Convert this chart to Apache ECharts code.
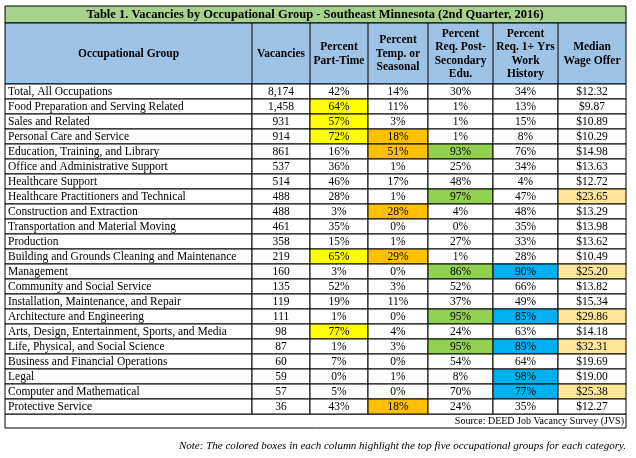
<!DOCTYPE html>
<html>
<head>
<meta charset="utf-8">
<script src="https://cdn.jsdelivr.net/npm/echarts@6/dist/echarts.min.js"></script>
<style>html,body{margin:0;padding:0;background:#fff}#main{width:636px;height:458px}</style>
</head>
<body>
<div id="main"></div>
<script>
var titleText = 'Table 1. Vacancies by Occupational Group - Southeast Minnesota (2nd Quarter, 2016)';
var headers = ['Occupational Group', 'Vacancies', 'Percent\nPart-Time', 'Percent\nTemp. or\nSeasonal',
    'Percent\nReq. Post-\nSecondary\nEdu.', 'Percent\nReq. 1+ Yrs\nWork\nHistory', 'Median\nWage Offer'];
var groups = ['Total, All Occupations', 'Food Preparation and Serving Related', 'Sales and Related',
    'Personal Care and Service', 'Education, Training, and Library', 'Office and Administrative Support',
    'Healthcare Support', 'Healthcare Practitioners and Technical', 'Construction and Extraction',
    'Transportation and Material Moving', 'Production', 'Building and Grounds Cleaning and Maintenance',
    'Management', 'Community and Social Service', 'Installation, Maintenance, and Repair',
    'Architecture and Engineering', 'Arts, Design, Entertainment, Sports, and Media',
    'Life, Physical, and Social Science', 'Business and Financial Operations', 'Legal',
    'Computer and Mathematical', 'Protective Service'];
var vacancies = ['8,174', '1,458', '931', '914', '861', '537', '514', '488', '488', '461', '358', '219',
    '160', '135', '119', '111', '98', '87', '60', '59', '57', '36'];
var partTime = [42, 64, 57, 72, 16, 36, 46, 28, 3, 35, 15, 65, 3, 52, 19, 1, 77, 1, 7, 0, 5, 43];
var temporary = [14, 11, 3, 18, 51, 1, 17, 1, 28, 0, 1, 29, 0, 3, 11, 0, 4, 3, 0, 1, 0, 18];
var postSecondary = [30, 1, 1, 1, 93, 25, 48, 97, 4, 0, 27, 1, 86, 52, 37, 95, 24, 95, 54, 8, 70, 24];
var workHistory = [34, 13, 15, 8, 76, 34, 4, 47, 48, 35, 33, 28, 90, 66, 49, 85, 63, 89, 64, 98, 77, 35];
var wage = ['12.32', '9.87', '10.89', '10.29', '14.98', '13.63', '12.72', '23.65', '13.29', '13.98', '13.62',
    '10.49', '25.20', '13.82', '15.34', '29.86', '14.18', '32.31', '19.69', '19.00', '25.38', '12.27'];
// highlighted (top five) row indexes per column
var topPartTime = [1, 2, 3, 11, 16];
var topTemporary = [3, 4, 8, 11, 21];
var topPostSecondary = [4, 7, 12, 15, 17];
var topWorkHistory = [12, 15, 17, 19, 20];
var topWage = [7, 12, 15, 17, 20];
var sourceText = 'Source: DEED Job Vacancy Survey (JVS)';
var noteText = 'Note: The colored boxes in each column highlight the top five occupational groups for each category.';

// layout
var colEdges = [5, 252, 310, 368, 428, 493, 558, 626];
var colors = ['#fff', '#fff', '#FFFF00', '#FFC000', '#92D050', '#00B0F0', '#FFE699'];
var font = '"Liberation Serif", "Times New Roman", serif';

var cols = [
    {vals: groups, top: []},
    {vals: vacancies, top: []},
    {vals: partTime.map(function (v) { return v + '%'; }), top: topPartTime},
    {vals: temporary.map(function (v) { return v + '%'; }), top: topTemporary},
    {vals: postSecondary.map(function (v) { return v + '%'; }), top: topPostSecondary},
    {vals: workHistory.map(function (v) { return v + '%'; }), top: topWorkHistory},
    {vals: wage.map(function (v) { return '$' + v; }), top: topWage}
];
var cells = [];
cols.forEach(function (c, ci) {
    c.vals.forEach(function (t, ri) {
        cells.push([ci, ri, t, c.top.indexOf(ri) >= 0 ? colors[ci] : '#fff']);
    });
});

var chart = echarts.init(document.getElementById('main'));
var graphics = [
    {type: 'rect', shape: {x: 5, y: 6, width: 621, height: 17}, style: {fill: '#A9D18E', stroke: '#000', lineWidth: 1}},
    {type: 'text', x: 315, y: 15, style: {text: titleText, font: 'bold 12.5px ' + font, fill: '#000', align: 'center', verticalAlign: 'middle'}},
    {type: 'rect', shape: {x: 5, y: 23, width: 621, height: 61}, style: {fill: '#9DC3E6', stroke: '#000', lineWidth: 1}},
    {type: 'rect', shape: {x: 5, y: 414, width: 621, height: 14}, style: {fill: '#fff', stroke: '#000', lineWidth: 1}},
    {type: 'text', x: 624, y: 421, style: {text: sourceText, font: '10px ' + font, fill: '#000', align: 'right', verticalAlign: 'middle'}},
    {type: 'text', x: 626, y: 446, style: {text: noteText, font: 'italic 11px ' + font, fill: '#000', align: 'right', verticalAlign: 'middle'}}
];
headers.forEach(function (h, i) {
    if (i > 0) {
        graphics.push({type: 'line', shape: {x1: colEdges[i], y1: 23, x2: colEdges[i], y2: 84}, style: {stroke: '#000', lineWidth: 1}});
    }
    graphics.push({type: 'text', x: (colEdges[i] + colEdges[i + 1]) / 2, y: 54,
        style: {text: h, font: 'bold 11.5px ' + font, lineHeight: 13.5, fill: '#000', align: 'center', verticalAlign: 'middle'}});
});

chart.setOption({
    animation: false,
    grid: {left: 5, right: 10, top: 84, bottom: 44},
    xAxis: {type: 'value', min: 5, max: 626, show: false},
    yAxis: {type: 'category', data: groups, inverse: true, show: false},
    graphic: graphics,
    series: [{
        type: 'custom',
        data: cells,
        renderItem: function (params, api) {
            var ci = api.value(0), ri = api.value(1);
            var p0 = api.coord([colEdges[ci], ri]);
            var p1 = api.coord([colEdges[ci + 1], ri]);
            var h = api.size([0, 1])[1];
            var x = p0[0], y = p0[1] - h / 2, w = p1[0] - p0[0];
            var text = cells[params.dataIndex][2];
            return {
                type: 'group',
                children: [
                    {type: 'rect', shape: {x: x, y: y, width: w, height: h},
                        style: {fill: api.value(3), stroke: '#000', lineWidth: 1}},
                    {type: 'text', x: ci === 0 ? x + 3 : x + w / 2, y: y + h / 2 + 0.5,
                        style: {text: text, font: '11.5px ' + font, fill: '#000',
                            align: ci === 0 ? 'left' : 'center', verticalAlign: 'middle'}}
                ]
            };
        }
    }]
});
</script>
</body>
</html>
